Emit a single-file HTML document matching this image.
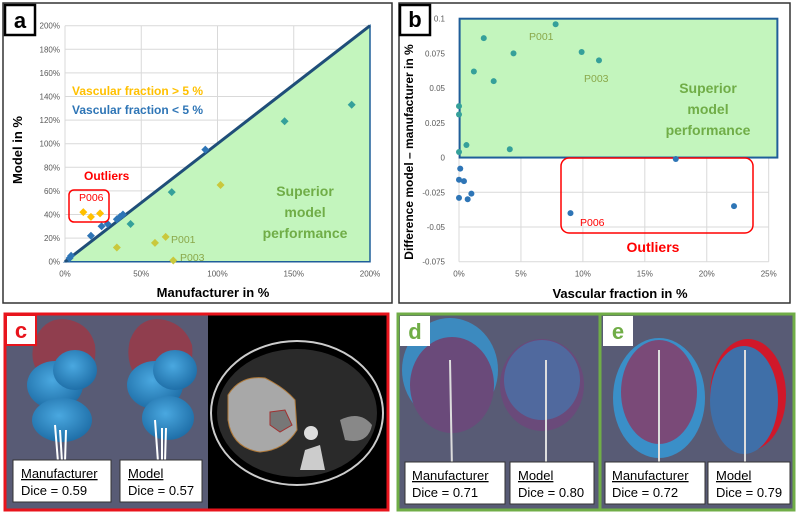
<!DOCTYPE html>
<html><head><meta charset="utf-8"><style>
html,body{margin:0;padding:0;background:#fff;}
svg{display:block;font-family:"Liberation Sans",sans-serif;}
</style></head><body>
<svg id="fig" width="796" height="513" viewBox="0 0 796 513" xmlns="http://www.w3.org/2000/svg">
<defs>
<radialGradient id="blob" cx="45%" cy="40%" r="60%"><stop offset="0" stop-color="#4aa8e0"/><stop offset="1" stop-color="#1f6fa8"/></radialGradient>
<radialGradient id="ctg" cx="50%" cy="50%" r="50%"><stop offset="0" stop-color="#555"/><stop offset="1" stop-color="#111"/></radialGradient>
</defs>
<!-- panel a frame -->
<rect x="3" y="3" width="389" height="300" fill="#fff" stroke="#333" stroke-width="1.5"/>
<g id="ga"></g>
<rect x="5" y="5" width="30" height="30" fill="#fff" stroke="#000" stroke-width="2.5"/>
<text x="20" y="28" font-size="22" font-weight="bold" text-anchor="middle">a</text>
<!-- panel b frame -->
<rect x="399" y="3" width="391" height="300" fill="#fff" stroke="#333" stroke-width="1.5"/>
<g id="gb"></g>
<rect x="400" y="5" width="30" height="30" fill="#fff" stroke="#000" stroke-width="2.5"/>
<text x="415" y="27" font-size="22" font-weight="bold" text-anchor="middle">b</text>

<!-- panel c -->
<g>
<rect x="5" y="314" width="383" height="196" fill="#585b75"/>
<rect x="208" y="314" width="180" height="196" fill="#000"/>
<ellipse cx="297" cy="413" rx="86" ry="72" fill="none" stroke="#ccc" stroke-width="2"/>
<ellipse cx="297" cy="413" rx="80" ry="64" fill="#2a2a2a"/>
<path d="M228 395 Q240 375 265 378 Q285 388 295 400 L297 430 Q285 450 260 452 Q232 448 228 420 Z" fill="#a8a8a8" stroke="#b07a3a" stroke-width="1"/>
<path d="M270 412 L285 410 L292 425 L280 432 L270 425 Z" fill="#777" stroke="#a03030" stroke-width="1"/>
<circle cx="311" cy="433" r="7" fill="#ddd"/>
<path d="M305 450 L320 445 L325 470 L300 470 Z" fill="#ccc"/>
<path d="M340 420 Q360 410 372 425 Q368 445 345 440 Z" fill="#888"/>
<path d="M35 340 Q45 315 70 320 Q90 325 95 345 Q98 370 80 380 L40 375 Q28 360 35 340 Z" fill="#9a3a48" opacity="0.85"/>
<path d="M130 340 Q140 315 165 320 Q185 325 192 345 Q195 370 175 380 L135 375 Q125 360 130 340 Z" fill="#9a3a48" opacity="0.85"/>
<ellipse cx="55" cy="385" rx="28" ry="24" fill="url(#blob)"/><ellipse cx="75" cy="370" rx="22" ry="20" fill="url(#blob)"/><ellipse cx="62" cy="420" rx="30" ry="22" fill="url(#blob)"/>
<ellipse cx="155" cy="385" rx="28" ry="24" fill="url(#blob)"/><ellipse cx="175" cy="370" rx="22" ry="20" fill="url(#blob)"/><ellipse cx="168" cy="418" rx="26" ry="22" fill="url(#blob)"/>
<path d="M55 425 L58 462 M60 430 L62 462 M66 430 L65 462 M155 420 L158 462 M162 428 L162 462 M166 428 L165 462" stroke="#fff" stroke-width="2"/>
<rect x="13" y="460" width="98" height="42" fill="#fff" stroke="#333"/>
<text x="21" y="478" font-size="13" text-decoration="underline">Manufacturer</text>
<text x="21" y="495" font-size="13">Dice = 0.59</text>
<rect x="120" y="460" width="82" height="42" fill="#fff" stroke="#333"/>
<text x="128" y="478" font-size="13" text-decoration="underline">Model</text>
<text x="128" y="495" font-size="13">Dice = 0.57</text>
<rect x="5" y="314" width="383" height="196" fill="none" stroke="#e8141c" stroke-width="3"/>
<rect x="6" y="315" width="30" height="30" fill="#fff" stroke="#e8141c" stroke-width="2"/>
<text x="21" y="338" font-size="22" font-weight="bold" fill="#e8141c" text-anchor="middle">c</text>
</g>

<!-- panel d -->
<g>
<rect x="398" y="314" width="202" height="196" fill="#585b75"/>
<ellipse cx="450" cy="370" rx="48" ry="52" fill="#3a8fc8" opacity="0.9"/>
<ellipse cx="452" cy="385" rx="42" ry="48" fill="#6a4a7a"/>
<ellipse cx="542" cy="385" rx="42" ry="46" fill="#6a4a7a"/>
<ellipse cx="542" cy="380" rx="38" ry="40" fill="#4a70a8" opacity="0.8"/>
<path d="M450 360 L452 470 M546 360 L546 470" stroke="#ddd" stroke-width="2"/>
<rect x="405" y="462" width="100" height="42" fill="#fff" stroke="#333"/>
<text x="412" y="480" font-size="13" text-decoration="underline">Manufacturer</text>
<text x="412" y="497" font-size="13">Dice = 0.71</text>
<rect x="510" y="462" width="84" height="42" fill="#fff" stroke="#333"/>
<text x="518" y="480" font-size="13" text-decoration="underline">Model</text>
<text x="518" y="497" font-size="13">Dice = 0.80</text>
<rect x="398" y="314" width="202" height="196" fill="none" stroke="#70ad47" stroke-width="3"/>
<rect x="400" y="316" width="30" height="30" fill="#fff"/>
<text x="415" y="339" font-size="22" font-weight="bold" fill="#70ad47" text-anchor="middle">d</text>
</g>

<!-- panel e -->
<g>
<rect x="600" y="314" width="194" height="196" fill="#585b75"/>
<ellipse cx="659" cy="398" rx="46" ry="60" fill="#3a8fc8"/>
<ellipse cx="659" cy="392" rx="38" ry="52" fill="#7a4a78"/>
<ellipse cx="748" cy="395" rx="38" ry="56" fill="#d0182a"/>
<ellipse cx="744" cy="400" rx="34" ry="54" fill="#3f6fa8"/>
<path d="M659 350 L659 470 M745 350 L745 470" stroke="#ddd" stroke-width="2"/>
<rect x="605" y="462" width="100" height="42" fill="#fff" stroke="#333"/>
<text x="612" y="480" font-size="13" text-decoration="underline">Manufacturer</text>
<text x="612" y="497" font-size="13">Dice = 0.72</text>
<rect x="708" y="462" width="82" height="42" fill="#fff" stroke="#333"/>
<text x="716" y="480" font-size="13" text-decoration="underline">Model</text>
<text x="716" y="497" font-size="13">Dice = 0.79</text>
<rect x="600" y="314" width="194" height="196" fill="none" stroke="#70ad47" stroke-width="3"/>
<rect x="603" y="316" width="30" height="30" fill="#fff"/>
<text x="618" y="339" font-size="22" font-weight="bold" fill="#70ad47" text-anchor="middle">e</text>
</g>
</svg>
<script>
const NS="http://www.w3.org/2000/svg";
// panel a data
const aTicks=[0,20,40,60,80,100,120,140,160,180,200];
const aXTicks=[0,50,100,150,200];
const aBlueX=[3,4,17,24,28,34,36,38,92];
const aBlueY=[3,5,22,30,32,36,38,40,95];
const aTealX=[43,70,144,188];
const aTealY=[32,59,119,133];
const aOrangeX=[12,17,23];
const aOrangeY=[42,38,41];
const aOliveX=[34,59,66,71,102];
const aOliveY=[12,16,21,1,65];
// panel b data
const bXTicks=[0,5,10,15,20,25];
const bYTicks=[0.1,0.075,0.05,0.025,0,-0.025,-0.05,-0.075];
const bYLabels=["0.1","0.075","0.05","0.025","0","-0.025","-0.05","-0.075"];
const bX=[0,0,0,0.1,0,0.4,0,0.7,1.0,0.6,1.2,2.0,2.8,4.4,4.1,7.8,9.9,11.3,17.5,9.0,22.2];
const bY=[0.037,0.031,0.004,-0.008,-0.016,-0.017,-0.029,-0.03,-0.026,0.009,0.062,0.086,0.055,0.075,0.006,0.096,0.076,0.070,-0.001,-0.04,-0.035];

function mk(parent,tag,attrs,text){const e=document.createElementNS(NS,tag);for(const k in attrs)e.setAttribute(k,attrs[k]);if(text!=null)e.textContent=text;parent.appendChild(e);return e;}

// panel a
const ga=document.getElementById('ga');
const ax=v=>65+v*(370-65)/200, ay=v=>261.7-v*(261.7-25.7)/200;
aTicks.forEach(t=>{const l=mk(ga,'line',{x1:ax(0),x2:ax(200),y1:ay(t),y2:ay(t),stroke:'#d9d9d9'});

const tx=mk(ga,'text',{x:ax(0)-5,y:ay(t)+3,'font-size':'8','fill':'#595959','text-anchor':'end'},t+'%');
});
aXTicks.forEach(t=>{const l=mk(ga,'line',{x1:ax(t),x2:ax(t),y1:ay(0),y2:ay(200),stroke:'#d9d9d9'});

const tx=mk(ga,'text',{x:ax(t),y:ay(0)+15,'font-size':'8','fill':'#595959','text-anchor':'middle'},t+'%');
});
const tri=mk(ga,'polygon',{points:`${ax(0)},${ay(0)} ${ax(200)},${ay(0)} ${ax(200)},${ay(200)}`,fill:'#c3f5bd',stroke:'#1f5e9a','stroke-width':'1.5'});

const dl=mk(ga,'line',{x1:ax(0),y1:ay(0),x2:ax(200),y2:ay(200),stroke:'#1f4e79','stroke-width':'3'});

function diamond(g,x,y,c,name){const s=4;const p=mk(g,'polygon',{points:`${x},${y-s} ${x+s},${y} ${x},${y+s} ${x-s},${y}`,fill:c});
}
aBlueX.forEach((v,i)=>diamond(ga,ax(v),ay(aBlueY[i]),'#2e75b6','point-blue'));
aTealX.forEach((v,i)=>diamond(ga,ax(v),ay(aTealY[i]),'#35a09a','point-teal'));
aOrangeX.forEach((v,i)=>diamond(ga,ax(v),ay(aOrangeY[i]),'#ffc000','point-orange'));
aOliveX.forEach((v,i)=>diamond(ga,ax(v),ay(aOliveY[i]),'#c9c83c','point-olive'));
const ob=mk(ga,'rect',{x:69,y:190,width:40,height:32,rx:5,fill:'none',stroke:'#ff0000','stroke-width':'1.5'});

[['Vascular fraction > 5 %',72,95,'#ffc000','legend-over-5'],['Vascular fraction < 5 %',72,114,'#2e75b6','legend-under-5'],
 ['Outliers',84,180,'#ff0000','outliers-label']].forEach(a=>{const t=mk(ga,'text',{x:a[1],y:a[2],'font-size':'12','font-weight':'bold',fill:a[3]},a[0]);
});
[['P006',79,201,'#ff0000'],['P001',171,243,'#8aa84a'],['P003',180,261,'#8aa84a']].forEach(a=>{const t=mk(ga,'text',{x:a[1],y:a[2],'font-size':'10.5',fill:a[3]},a[0]);
});
['Superior','model','performance'].forEach((w,i)=>{const t=mk(ga,'text',{x:305,y:196+i*21,'font-size':'14','font-weight':'bold',fill:'#70ad47','text-anchor':'middle'},w);
});
let t=mk(ga,'text',{x:213,y:297,'font-size':'13','font-weight':'bold','text-anchor':'middle'},'Manufacturer in %');

t=mk(ga,'text',{x:0,y:0,'font-size':'13','font-weight':'bold','text-anchor':'middle',transform:'translate(22,150) rotate(-90)'},'Model in %');


// panel b
const gb=document.getElementById('gb');
const bx=v=>459+v*(768.7-459)/25, by=v=>18.7+(0.1-v)*(261.7-18.7)/0.175;
bYTicks.forEach((v,i)=>{const l=mk(gb,'line',{x1:bx(0),x2:bx(25),y1:by(v),y2:by(v),stroke:'#d9d9d9'});

const tx=mk(gb,'text',{x:bx(0)-14,y:by(v)+3,'font-size':'8','fill':'#595959','text-anchor':'end'},bYLabels[i]);
});
bXTicks.forEach(v=>{const l=mk(gb,'line',{x1:bx(v),x2:bx(v),y1:by(0.1),y2:by(-0.075),stroke:'#d9d9d9'});

const tx=mk(gb,'text',{x:bx(v),y:by(-0.075)+15,'font-size':'8','fill':'#595959','text-anchor':'middle'},v+'%');
});
const gr=mk(gb,'rect',{x:bx(0.05),y:by(0.1),width:bx(25.7)-bx(0.05),height:by(0)-by(0.1),fill:'#c3f5bd',stroke:'#1f5e9a','stroke-width':'2'});

const rr=mk(gb,'rect',{x:561,y:158,width:192,height:75,rx:8,fill:'none',stroke:'#ff0000','stroke-width':'1.5'});

bX.forEach((v,i)=>{const c=mk(gb,'circle',{cx:bx(v),cy:by(bY[i]),r:3,fill:bY[i]>0.0005?'#35a09a':'#2e75b6'});
});
[['P001',529,40,'#8aa84a'],['P003',584,82,'#8aa84a'],['P006',580,226,'#ff0000']].forEach(a=>{const t=mk(gb,'text',{x:a[1],y:a[2],'font-size':'10.5',fill:a[3]},a[0]);
});
['Superior','model','performance'].forEach((w,i)=>{const t=mk(gb,'text',{x:708,y:93+i*21,'font-size':'14','font-weight':'bold',fill:'#70ad47','text-anchor':'middle'},w);
});
t=mk(gb,'text',{x:653,y:252,'font-size':'14','font-weight':'bold',fill:'#ff0000','text-anchor':'middle'},'Outliers');

t=mk(gb,'text',{x:620,y:298,'font-size':'13','font-weight':'bold','text-anchor':'middle'},'Vascular fraction in %');

t=mk(gb,'text',{x:0,y:0,'font-size':'12','font-weight':'bold','text-anchor':'middle',transform:'translate(413,152) rotate(-90)'},'Difference model \u2013 manufacturer in %');

</script>
</body></html>
